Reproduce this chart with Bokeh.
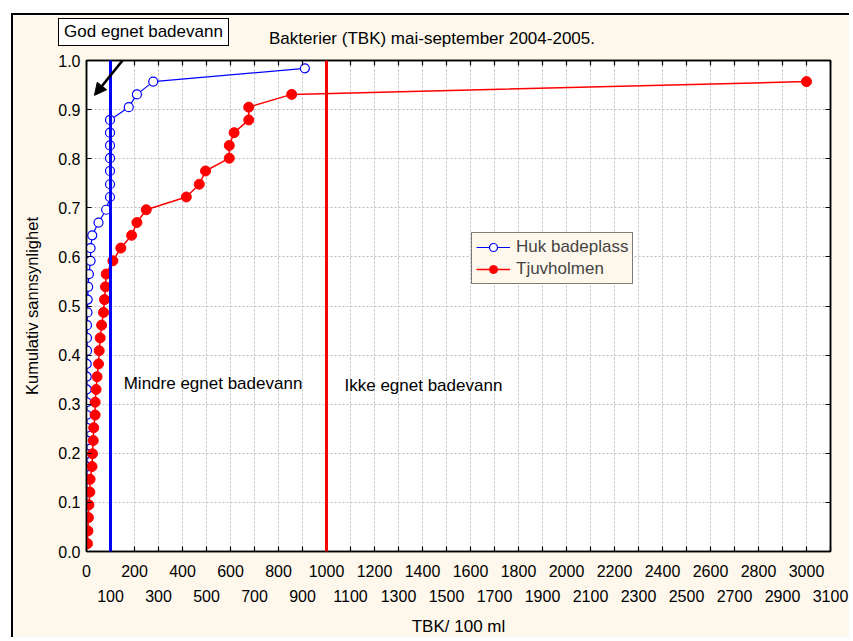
from bokeh.plotting import figure
from bokeh.layouts import column
from bokeh.models import (LinearAxis, FixedTicker, Span, Label, Arrow, NormalHead,
                          Legend, LegendItem, NumeralTickFormatter, Div,
                          CustomJSTickFormatter)
from bokeh.embed import file_html
from bokeh.resources import INLINE

# ---------------- data ----------------
huk_tbk = [0, 0, 0, 0, 1, 1, 1, 1, 1, 1, 1, 1, 1, 1, 1, 2, 2, 2,
           4, 5, 7, 10, 17, 17, 24, 50, 82,
           98, 98, 98, 98, 98, 98, 98,
           176, 210, 278, 910]
huk_p = [0.016, 0.042, 0.069, 0.095, 0.121, 0.147, 0.173, 0.199, 0.226, 0.252,
         0.278, 0.304, 0.330, 0.356, 0.382, 0.409, 0.435, 0.461, 0.487, 0.513,
         0.539, 0.565, 0.592, 0.618, 0.644, 0.670, 0.696, 0.722, 0.748, 0.775,
         0.801, 0.827, 0.853, 0.879, 0.905, 0.931, 0.957, 0.984]

tjuv_tbk = [4, 6, 8, 10, 14, 15, 23, 25, 28, 30, 36, 36, 40, 44, 50, 53, 57, 63,
            71, 75, 79, 82, 110, 143, 188, 210, 249, 416, 470, 496, 595, 595,
            615, 676, 676, 855, 3000]
tjuv_p = [0.016, 0.042, 0.069, 0.095, 0.121, 0.147, 0.173, 0.199, 0.226, 0.252,
          0.278, 0.304, 0.330, 0.356, 0.382, 0.409, 0.435, 0.461, 0.487, 0.513,
          0.539, 0.565, 0.592, 0.618, 0.644, 0.670, 0.696, 0.722, 0.748, 0.775,
          0.801, 0.827, 0.853, 0.879, 0.905, 0.931, 0.957]

thresholds = [100, 1000]
threshold_colors = ["#0000FF", "#FF0000"]

x_ticks = list(range(0, 3101, 100))
x_ticks_odd = [t for t in x_ticks if t % 200 == 100]
y_ticks = [0.0, 0.1, 0.2, 0.3, 0.4, 0.5, 0.6, 0.7, 0.8, 0.9, 1.0]

title_text = "Bakterier (TBK) mai-september 2004-2005."
x_label = "TBK/ 100 ml"
y_label = "Kumulativ sannsynlighet"
box_text = "God egnet badevann"

# ---------------- style ----------------
FONT = "Liberation Sans"
CREAM = "#FEF8EC"
TICK_FS = "16px"
TXT_FS = "17px"

p = figure(width=838, height=624, x_range=(0, 3100), y_range=(0, 1),
           output_backend="svg", toolbar_location=None,
           min_border_left=73, min_border_right=21, min_border_top=45,
           min_border_bottom=88,
           background_fill_color="white", border_fill_color=CREAM,
           outline_line_color="black", outline_line_width=1.5,
           margin=(13, 0, 0, 11),
           styles={"border-left": "2px solid black", "border-top": "2px solid black"})

# grid
p.xgrid.ticker = FixedTicker(ticks=x_ticks)
p.ygrid.ticker = FixedTicker(ticks=y_ticks)
for g in (p.xgrid, p.ygrid):
    g.grid_line_color = "#BDBDBD"
    g.grid_line_dash = "2 2"
    g.grid_line_width = 1

# bottom axis (row 1: even labels)
ax1 = p.below[0]
ax1.ticker = FixedTicker(ticks=x_ticks)
ax1.major_label_overrides = {t: "" for t in x_ticks_odd}
ax1.major_tick_in = 5
ax1.major_tick_out = 0
ax1.minor_tick_line_color = None
ax1.axis_line_width = 1.5
ax1.major_tick_line_width = 1.2
ax1.major_label_standoff = 13
ax1.major_label_text_font = FONT
ax1.major_label_text_font_size = TICK_FS
ax1.major_label_text_color = "black"

# bottom axis row 2: odd labels + axis title
ax2 = LinearAxis(ticker=FixedTicker(ticks=x_ticks_odd),
                 axis_line_color=None, major_tick_line_color=None,
                 minor_tick_line_color=None, major_tick_in=0, major_tick_out=0,
                 major_label_standoff=10, major_label_text_font=FONT,
                 major_label_text_font_size=TICK_FS, major_label_text_color="black",
                 axis_label=x_label, axis_label_text_font=FONT,
                 axis_label_text_font_size=TXT_FS, axis_label_text_font_style="normal",
                 axis_label_text_color="black", axis_label_standoff=12)
p.add_layout(ax2, "below")

blank = CustomJSTickFormatter(code="return ''")

# top axis (ticks only)
ax_top = LinearAxis(ticker=FixedTicker(ticks=x_ticks), major_tick_in=5,
                    major_tick_out=0, minor_tick_line_color=None,
                    formatter=blank, axis_line_width=1.5,
                    major_tick_line_width=1.2, major_label_standoff=0)
p.add_layout(ax_top, "above")

# left axis
ay = p.left[0]
ay.ticker = FixedTicker(ticks=y_ticks)
ay.formatter = NumeralTickFormatter(format="0.0")
ay.major_tick_in = 5
ay.major_tick_out = 0
ay.minor_tick_line_color = None
ay.axis_line_width = 1.5
ay.major_tick_line_width = 1.2
ay.major_label_standoff = 6
ay.major_label_text_font = FONT
ay.major_label_text_font_size = TICK_FS
ay.major_label_text_color = "black"
ay.axis_label = y_label
ay.axis_label_text_font = FONT
ay.axis_label_text_font_size = "16.5px"
ay.axis_label_text_font_style = "normal"
ay.axis_label_text_color = "black"
ay.axis_label_standoff = 14

# right axis (ticks only)
ay_r = LinearAxis(ticker=FixedTicker(ticks=y_ticks), major_tick_in=5,
                  major_tick_out=0, minor_tick_line_color=None,
                  formatter=blank, axis_line_width=1.5,
                  major_tick_line_width=1.2, major_label_standoff=0)
p.add_layout(ay_r, "right")

# data series
bl = p.line(huk_tbk, huk_p, line_color="#0000FF", line_width=1.2)
bs = p.scatter(huk_tbk, huk_p, marker="circle", size=9, fill_color="white",
               line_color="#0000FF", line_width=1.2)
rl = p.line(tjuv_tbk, tjuv_p, line_color="#FF0000", line_width=1.5)
rs = p.scatter(tjuv_tbk, tjuv_p, marker="circle", size=10, fill_color="#FF0000",
               line_color="#FF0000")

# threshold lines
for loc, col in zip(thresholds, threshold_colors):
    p.add_layout(Span(location=loc, dimension="height", line_color=col, line_width=3))

# legend
legend = Legend(items=[LegendItem(label="Huk badeplass", renderers=[bl, bs]),
                       LegendItem(label="Tjuvholmen", renderers=[rl, rs])],
                location=(385, 267), background_fill_color=CREAM,
                background_fill_alpha=1.0, border_line_color="black",
                border_line_width=1.5, label_text_font=FONT,
                label_text_font_size=TXT_FS, glyph_width=34, glyph_height=20,
                label_standoff=6, padding=4, spacing=2, margin=0,
                label_height=20)
p.add_layout(legend)

# in-plot texts
p.add_layout(Label(x=155, y=0.342, text="Mindre egnet badevann", text_font=FONT,
                   text_font_size=TXT_FS, text_align="left", text_baseline="middle",
                   text_color="black"))
p.add_layout(Label(x=1075, y=0.338, text="Ikke egnet badevann", text_font=FONT,
                   text_font_size=TXT_FS, text_align="left", text_baseline="middle",
                   text_color="black"))
p.add_layout(Arrow(end=NormalHead(size=12, fill_color="black", line_color="black"),
                   x_start=183, y_start=1.02, x_end=33, y_end=0.929,
                   line_width=2.5, line_color="black"))

# title and boxed note above the frame
title = Div(text=title_text, styles={
    "position": "absolute", "left": "264px", "top": "24px",
    "height": "20px", "white-space": "nowrap",
    "font-family": FONT, "font-size": TXT_FS, "line-height": "20px",
    "color": "black", "z-index": "10"})
note = Div(text=box_text, styles={
    "position": "absolute", "left": "53px", "top": "13px",
    "width": "171px", "height": "28px", "box-sizing": "border-box",
    "border": "1.5px solid black", "background": "white",
    "font-family": FONT, "font-size": TXT_FS, "line-height": "25px",
    "text-align": "center", "color": "black", "z-index": "10"})

layout = column(p, title, note, spacing=0)
open("out.html", "w").write(file_html(layout, INLINE))
